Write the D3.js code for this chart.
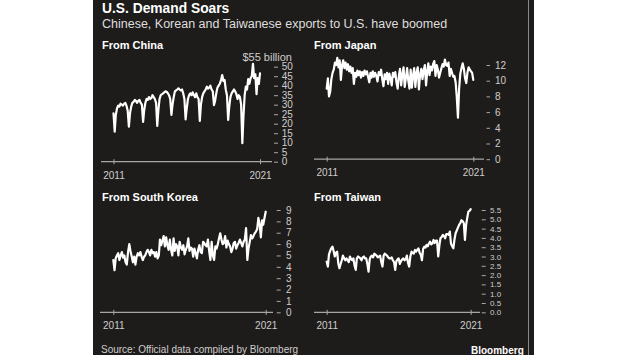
<!DOCTYPE html>
<html>
<head>
<meta charset="utf-8">
<script src="https://cdn.jsdelivr.net/npm/d3@7"></script>
<style>
  html, body { margin: 0; padding: 0; background: #ffffff; }
  svg { display: block; }
  text { font-family: "Liberation Sans", Arial, sans-serif; }
</style>
</head>
<body>
<svg id="chart" width="620" height="355"></svg>
<script>
// ---------- DATA (monthly, Jan 2011 - May 2021, $ billion) ----------
const startMonth = new Date(2011, 0, 1);
const endMonth = new Date(2021, 4, 1);

const china = [
  25.5, 15.8, 24.5, 28, 29.5, 29, 30.5, 30, 29.5, 30.5, 31, 29.5,
  27, 18.4, 25.5, 29, 31, 31.5, 32.5, 32, 31, 32, 32.5, 31,
  30, 21, 27, 31, 33, 32.5, 34, 33, 33.5, 35, 34, 33,
  31, 18.8, 27, 33, 35, 35.5, 36, 36.5, 37, 36.8, 36, 35,
  33, 24.6, 30, 34, 37, 37.5, 38, 38.6, 38, 37.5, 38, 36,
  33, 22.3, 28, 33, 35, 36, 35, 36.5, 35, 34, 36, 34,
  33, 21.5, 30, 34, 36, 37, 38, 39.5, 38.5, 39, 40, 38,
  37, 29.8, 32, 36, 39, 40, 41, 43, 45.6, 42.5, 43, 38,
  35, 22, 29, 34, 36, 37, 38, 37, 35.5, 33, 35, 34,
  30, 9.7, 24, 35, 39.5, 38, 43.5, 41, 44, 45, 51.5, 44,
  46, 35.6, 44, 41, 46.5
];

const japan = [
  9.0, 10.3, 8.0, 8.6, 10.2, 11.0, 11.4, 12.3, 12.0, 12.9, 11.7, 12.6,
  10.1, 12.0, 12.6, 11.6, 12.3, 11.4, 12.1, 11.2, 11.8, 11.0, 11.6, 9.6,
  11.0, 10.5, 11.3, 10.7, 11.2, 10.4, 11.1, 10.6, 11.3, 10.8, 11.2, 10.5,
  9.8, 11.0, 10.4, 11.2, 10.5, 11.0, 10.6, 9.9, 11.1, 10.7, 11.4, 10.2,
  9.3, 10.8, 10.2, 11.0, 9.6, 10.9, 10.3, 9.4, 11.0, 10.5, 11.1, 9.8,
  9.0, 10.6, 11.5, 9.4, 10.8, 11.7, 9.2, 10.4, 11.6, 10.0, 9.0, 11.4,
  9.1, 10.7, 11.6, 9.2, 11.0, 11.7, 8.9, 10.8, 11.5, 10.2, 11.3, 12.0,
  9.4, 11.2, 12.2, 10.7, 11.8, 11.3, 12.1, 12.5, 10.6, 12.0, 11.4, 10.4,
  11.0, 11.6, 12.1, 11.8, 12.7, 12.0, 11.9, 12.3, 10.6, 11.5, 11.0, 10.5,
  10.6, 9.8, 8.0, 5.3, 9.0, 10.9, 11.6, 12.2, 11.5, 10.3, 9.7, 11.0,
  11.7, 11.4, 11.2, 11.0, 10.1
];

const korea = [
  4.6, 3.7, 4.75, 5.0, 5.2, 4.6, 5.0, 5.3, 4.8, 5.0, 4.4, 4.2,
  5.3, 6.0, 5.4, 4.9, 4.4, 4.9, 4.2, 4.9, 5.2, 5.0, 5.3, 4.9,
  4.6, 4.9, 5.0, 5.3, 5.5, 5.3, 5.0, 5.5, 5.2, 5.3, 4.9, 5.3,
  4.75, 5.0, 6.4, 5.9, 6.3, 6.7, 5.8, 6.6, 5.9, 5.5, 6.4, 5.5,
  5.0, 6.5, 5.4, 6.0, 5.8, 5.0, 6.2, 5.7, 5.5, 5.9, 5.1, 5.5,
  5.8, 6.5, 5.4, 5.7, 5.6, 4.9, 5.6, 5.2, 4.75, 5.5, 5.9, 5.3,
  5.2, 6.2, 6.1, 5.9, 5.8, 6.4, 5.4, 4.6, 6.2, 5.0, 4.6, 5.8,
  5.6, 6.0, 6.5, 6.95, 6.4, 6.0, 6.1, 6.7, 5.7, 6.3, 6.0, 5.8,
  5.3, 5.6, 6.1, 6.2, 5.6, 5.9, 6.1, 6.4, 6.1, 5.8, 6.2, 6.4,
  7.4, 4.6, 5.6, 6.2, 6.8, 6.5, 6.7, 6.95, 7.1, 7.3, 8.3, 7.8,
  6.6, 8.1, 7.7, 8.3, 8.85
];

const taiwan = [
  2.72, 2.46, 3.1, 3.3, 3.44, 3.53, 3.3, 3.0, 3.2, 3.26, 2.63, 2.37,
  2.6, 2.8, 3.05, 2.9, 2.8, 2.9, 2.8, 2.7, 3.0, 2.85, 2.8, 2.9,
  2.5, 2.28, 2.9, 3.0, 2.95, 2.9, 2.8, 2.95, 3.0, 2.9, 2.9, 2.6,
  2.19, 2.85, 3.0, 3.05, 2.95, 3.15, 3.1, 3.05, 2.95, 3.0, 3.05, 2.7,
  2.46, 3.05, 3.15, 3.1, 3.05, 2.95, 2.9, 2.9, 2.95, 2.8, 2.7, 2.28,
  2.75, 2.85, 2.9, 2.6, 2.75, 2.85, 2.9, 2.8, 2.85, 3.05, 2.65, 2.46,
  3.0, 3.26, 3.2, 3.15, 3.35, 3.26, 3.35, 3.44, 3.2, 3.1, 2.8, 3.4,
  3.53, 3.48, 3.62, 3.55, 3.7, 3.8, 3.65, 3.7, 3.89, 3.72, 3.85, 3.85,
  3.0, 3.6, 3.98, 4.05, 4.16, 4.1, 3.98, 4.2, 4.2, 4.16, 4.34, 3.7,
  3.55, 3.44, 3.9, 4.25, 4.4, 4.55, 4.7, 4.8, 4.95, 4.9, 4.8, 3.89,
  4.7, 5.1, 5.41, 5.45, 5.55
];

const chinaTicks = [0, 5, 10, 15, 20, 25, 30, 35, 40, 45, 50];
const japanTicks = [0, 2, 4, 6, 8, 10, 12];
const koreaTicks = [0, 1, 2, 3, 4, 5, 6, 7, 8, 9];
const taiwanTicks = [0, 0.5, 1, 1.5, 2, 2.5, 3, 3.5, 4, 4.5, 5, 5.5];

const titleText = "U.S. Demand Soars";
const subtitleText = "Chinese, Korean and Taiwanese exports to U.S. have boomed";
const sourceText = "Source: Official data compiled by Bloomberg";

// ---------- LAYOUT ----------
const months = d3.timeMonth.range(startMonth, d3.timeMonth.offset(endMonth, 1));

const panels = [
  { title: "From China", values: china, ticks: chinaTicks, fmt: d3.format("d"),
    tx: 102, ty: 49, xr: [113.5, 260], yr: [161.7, 57.2], ydom: [0, 55],
    lineX: [101, 272], dashX: 274, dashLen: 4, pad: 3.7, fs: 10, top: "$55 billion", topX: 292 },
  { title: "From Japan", values: japan, ticks: japanTicks, fmt: d3.format("d"),
    tx: 314, ty: 49, xr: [326.7, 473.3], yr: [159.2, 65], ydom: [0, 12],
    lineX: [314, 484], dashX: 486.5, dashLen: 3.5, pad: 5, fs: 10 },
  { title: "From South Korea", values: korea, ticks: koreaTicks, fmt: d3.format("d"),
    tx: 102, ty: 201, xr: [113.3, 265.7], yr: [312.3, 210], ydom: [0, 9],
    lineX: [100, 273], dashX: 276.7, dashLen: 4, pad: 5.3, fs: 10 },
  { title: "From Taiwan", values: taiwan, ticks: taiwanTicks, fmt: d3.format(".1f"),
    tx: 314, ty: 201, xr: [326.7, 470.7], yr: [312.3, 210], ydom: [0, 5.5],
    lineX: [314, 480], dashX: 481.7, dashLen: 4, pad: 4.3, fs: 8 }
];

const svg = d3.select("#chart");

svg.append("rect").attr("x", 93).attr("y", 0).attr("width", 441).attr("height", 355)
  .attr("fill", "#1e1c1b");
svg.append("line").attr("x1", 528.5).attr("x2", 528.5).attr("y1", 0).attr("y2", 355)
  .attr("stroke", "#8a8886").attr("stroke-width", 1);

svg.append("text").attr("x", 102).attr("y", 12.5).text(titleText)
  .attr("fill", "#ffffff").attr("font-size", 13.8).attr("font-weight", "bold");
svg.append("text").attr("x", 102).attr("y", 27.5).text(subtitleText)
  .attr("fill", "#dedede").attr("font-size", 12.5);

panels.forEach(p => {
  const g = svg.append("g");
  const x = d3.scaleTime().domain([months[0], months[months.length - 1]]).range(p.xr);
  const y = d3.scaleLinear().domain(p.ydom).range(p.yr);

  g.append("text").attr("x", p.tx).attr("y", p.ty).text(p.title)
    .attr("fill", "#ffffff").attr("font-size", 11).attr("font-weight", "bold");

  // x axis baseline
  g.append("line").attr("x1", p.lineX[0]).attr("x2", p.lineX[1])
    .attr("y1", y(0)).attr("y2", y(0)).attr("stroke", "#a8a6a4").attr("stroke-width", 1.2);

  const xa = g.append("g").attr("transform", `translate(0,${y(0)})`)
    .call(d3.axisBottom(x).tickValues([months[0], months[months.length - 1]])
      .tickFormat(d3.timeFormat("%Y")).tickSize(0));
  xa.select(".domain").remove();
  xa.selectAll(".tick line").attr("y1", -2.5).attr("y2", 2.5)
    .attr("stroke", "#a8a6a4").attr("stroke-width", 1);
  xa.selectAll(".tick text").attr("y", 17).attr("dy", 0)
    .attr("fill", "#cfcdcb").attr("font-size", 10).attr("font-family", "Liberation Sans, Arial, sans-serif");

  // y axis on right
  const ya = g.append("g").attr("transform", `translate(${p.dashX},0)`)
    .call(d3.axisRight(y).tickValues(p.ticks).tickFormat(p.fmt)
      .tickSize(p.dashLen).tickPadding(p.pad));
  ya.select(".domain").remove();
  ya.selectAll(".tick line").attr("stroke", "#a8a6a4");
  ya.selectAll(".tick text").attr("fill", "#cfcdcb").attr("font-size", p.fs)
    .attr("font-family", "Liberation Sans, Arial, sans-serif");

  if (p.top) {
    g.append("text").attr("x", p.topX).attr("y", y(55)).attr("dy", "0.32em")
      .attr("text-anchor", "end").text(p.top)
      .attr("fill", "#cfcdcb").attr("font-size", 11);
  }

  const line = d3.line().x((d, i) => x(months[i])).y(d => y(d));
  g.append("path").datum(p.values).attr("d", line)
    .attr("fill", "none").attr("stroke", "#ffffff").attr("stroke-width", 2.2)
    .attr("stroke-linejoin", "round").attr("stroke-linecap", "round");
});

svg.append("text").attr("x", 101).attr("y", 352.5).text(sourceText)
  .attr("fill", "#cfcdcb").attr("font-size", 10);
svg.append("text").attr("x", 471).attr("y", 354).text("Bloomberg")
  .attr("fill", "#ffffff").attr("font-size", 10).attr("font-weight", "bold");
</script>
</body>
</html>
